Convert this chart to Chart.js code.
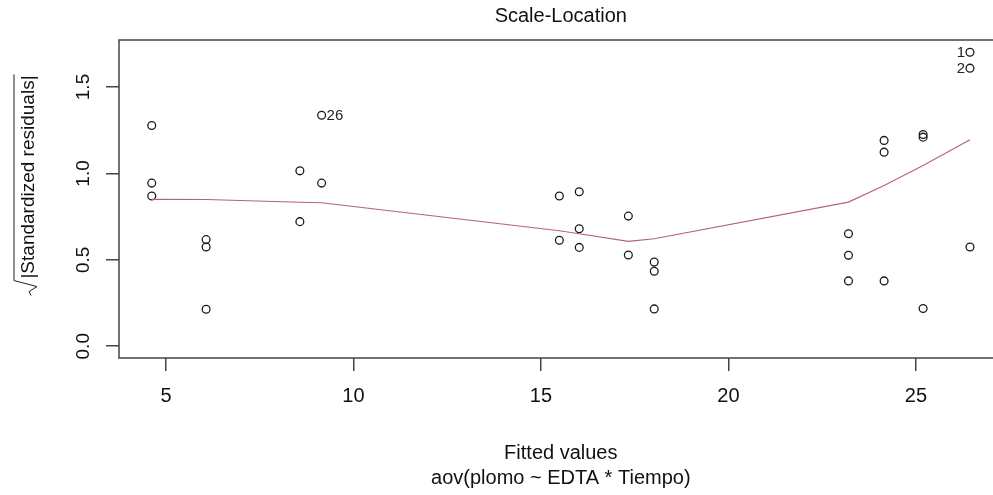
<!DOCTYPE html>
<html lang="en">
<head>
    <meta charset="UTF-8">
    <title>Scale-Location</title>
    <script src="https://cdn.jsdelivr.net/npm/chart.js"></script>
    <style>
        body { margin: 0; overflow: hidden; background: #fff; }
        #wrap { width: 993px; height: 495px; overflow: hidden; }
    </style>
</head>
<body>
    <div id="wrap">
        <canvas id="plot" width="1010" height="495"></canvas>
    </div>

    <script>
        // fitted values and sqrt(|standardized residuals|)
        const fitted = [4.62, 4.62, 4.62, 6.07, 6.07, 6.07, 8.57, 8.57, 9.15, 9.15,
                        15.49, 15.49, 16.02, 16.02, 16.02, 17.33, 17.33, 18.02, 18.02, 18.02,
                        23.20, 23.20, 23.20, 24.15, 24.15, 24.15, 25.19, 25.19, 25.19,
                        26.44, 26.44, 26.44];
        const sqrtRes = [1.277, 0.944, 0.869, 0.617, 0.574, 0.214, 1.015, 0.721, 1.337, 0.944,
                         0.869, 0.613, 0.894, 0.680, 0.572, 0.753, 0.528, 0.487, 0.434, 0.216,
                         0.651, 0.526, 0.378, 1.191, 1.123, 0.378, 1.225, 1.210, 0.218,
                         1.701, 1.609, 0.574];

        // red smoother line
        const smoothX = [4.62, 6.07, 8.57, 9.15, 15.49, 16.02, 17.33, 18.02, 23.20, 24.15, 25.19, 26.44];
        const smoothY = [0.850, 0.849, 0.833, 0.830, 0.668, 0.651, 0.607, 0.622, 0.834, 0.93, 1.046, 1.195];

        // labelled observations: [index in arrays, label, side]
        const idLabels = [[8, '26', 'right'], [29, '1', 'left'], [30, '2', 'left']];

        const xTicks = [5, 10, 15, 20, 25];
        const yTicks = [0, 0.5, 1.0, 1.5];

        const FONT = 'Liberation Sans, Arial, sans-serif';

        let pts = fitted.map((v, i) => ({x: v, y: sqrtRes[i]}));
        let smooth = smoothX.map((v, i) => ({x: v, y: smoothY[i]}));

        const rPlot = {
            id: 'rPlot',
            afterDraw(chart) {
                const ctx = chart.ctx;
                const a = chart.chartArea;
                const ys = chart.scales.y;
                ctx.save();

                // box
                ctx.strokeStyle = '#444';
                ctx.lineWidth = 1.5;
                ctx.strokeRect(Math.round(a.left), Math.round(a.top),
                    Math.round(a.right - a.left), Math.round(a.bottom - a.top));

                ctx.fillStyle = '#111';

                // title
                const cx = (a.left + a.right) / 2;
                ctx.font = '20px ' + FONT;
                ctx.textAlign = 'center';
                ctx.textBaseline = 'middle';
                ctx.fillText('Scale-Location', cx, 16);

                // x titles
                ctx.fillText('Fitted values', cx, 453);
                ctx.fillText('aov(plomo ~ EDTA * Tiempo)', cx, 478);

                // y tick labels, parallel to the axis
                ctx.font = '19px ' + FONT;
                ys.ticks.forEach(t => {
                    const py = ys.getPixelForValue(t.value);
                    ctx.save();
                    ctx.translate(84, py);
                    ctx.rotate(-Math.PI / 2);
                    ctx.fillText(t.value.toFixed(1), 0, 0);
                    ctx.restore();
                });

                // y title with a radical sign
                ctx.save();
                ctx.translate(28, 177);
                ctx.rotate(-Math.PI / 2);
                ctx.font = '19px ' + FONT;
                const txt = '|Standardized residuals|';
                const w = ctx.measureText(txt).width;
                ctx.fillText(txt, 0, 1);
                ctx.strokeStyle = '#222';
                ctx.lineWidth = 1;
                ctx.beginPath();
                ctx.moveTo(-w / 2 - 17, 3);
                ctx.lineTo(-w / 2 - 13, 1);
                ctx.lineTo(-w / 2 - 8, 9);
                ctx.lineTo(-w / 2 - 2, -14);
                ctx.lineTo(w / 2 + 1, -14);
                ctx.stroke();
                ctx.restore();

                // observation ids
                const meta = chart.getDatasetMeta(1);
                ctx.font = '15px ' + FONT;
                ctx.fillStyle = '#222';
                idLabels.forEach(l => {
                    const el = meta.data[l[0]];
                    if (l[2] === 'right') {
                        ctx.textAlign = 'left';
                        ctx.fillText(l[1], el.x + 5, el.y + 1);
                    } else {
                        ctx.textAlign = 'right';
                        ctx.fillText(l[1], el.x - 5, el.y + 1);
                    }
                });
                ctx.restore();
            }
        };

        new Chart(document.getElementById('plot').getContext('2d'), {
            type: 'scatter',
            data: {
                datasets: [{
                    type: 'line',
                    data: smooth,
                    borderColor: '#b5617a',
                    borderWidth: 1.1,
                    pointRadius: 0,
                    tension: 0,
                    fill: false
                }, {
                    data: pts,
                    pointStyle: 'circle',
                    pointRadius: 3.9,
                    borderWidth: 1.3,
                    borderColor: '#1a1a1a',
                    backgroundColor: 'rgba(0,0,0,0)'
                }]
            },
            options: {
                responsive: false,
                animation: false,
                devicePixelRatio: 1,
                layout: { padding: { top: 40, right: 7.4, left: 0, bottom: 0 } },
                plugins: {
                    legend: { display: false },
                    tooltip: { enabled: false }
                },
                scales: {
                    x: {
                        type: 'linear',
                        min: 3.747,
                        max: 27.31,
                        afterBuildTicks: s => { s.ticks = xTicks.map(v => ({value: v})); },
                        afterFit: s => { s.height = 137; },
                        grid: { drawOnChartArea: false, tickLength: 13, color: '#444', lineWidth: 1.5 },
                        border: { display: false },
                        ticks: {
                            font: { family: FONT, size: 20 },
                            color: '#111',
                            padding: 13,
                            maxRotation: 0,
                            callback: v => String(v)
                        }
                    },
                    y: {
                        min: -0.068,
                        max: 1.772,
                        afterBuildTicks: s => { s.ticks = yTicks.map(v => ({value: v})); },
                        afterFit: s => { s.width = 119; },
                        grid: { drawOnChartArea: false, tickLength: 13, color: '#444', lineWidth: 1.5 },
                        border: { display: false },
                        ticks: { display: false }
                    }
                }
            },
            plugins: [rPlot]
        });
    </script>
</body>
</html>
